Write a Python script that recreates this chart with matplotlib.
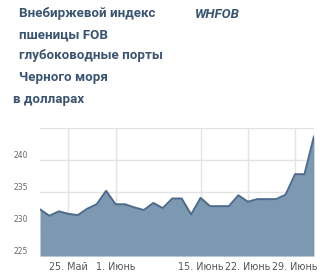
import numpy as np
import matplotlib.pyplot as plt

# ========== Данные ==========
# торговые дни (12 июня — выходной, его нет)
dates = ['2015-05-20', '2015-05-21', '2015-05-22', '2015-05-25', '2015-05-26',
         '2015-05-27', '2015-05-28', '2015-05-29', '2015-06-01', '2015-06-02',
         '2015-06-03', '2015-06-04', '2015-06-05', '2015-06-08', '2015-06-09',
         '2015-06-10', '2015-06-11', '2015-06-15', '2015-06-16', '2015-06-17',
         '2015-06-18', '2015-06-19', '2015-06-22', '2015-06-23', '2015-06-24',
         '2015-06-25', '2015-06-26', '2015-06-29', '2015-06-30', '2015-07-01']
values = [232.3, 231.3, 232.0, 231.6, 231.4, 232.4, 233.1, 235.2, 233.1, 233.1,
          232.6, 232.2, 233.3, 232.5, 234.0, 234.0, 231.5, 234.1, 232.8, 232.8,
          232.8, 234.5, 233.5, 233.9, 233.9, 233.9, 234.6, 237.8, 237.8, 243.7]

tick_dates = ['2015-05-25', '2015-06-01', '2015-06-15', '2015-06-22', '2015-06-29']
tick_labels = ['25. Май', '1. Июнь', '15. Июнь', '22. Июнь', '29. Июнь']
y_ticks = [225, 230, 235, 240, 245]

title_lines = ['Внебиржевой индекс', 'пшеницы FOB', 'глубоководные порты', 'Черного моря']
code = 'WHFOB'
units = 'в долларах'

# ========== Визуализация ==========
plt.rcParams['font.family'] = ['DejaVu Sans']
fig = plt.figure(figsize=(3.2, 2.78), dpi=100)
ax = fig.add_axes([0.125, 0.079, 0.856, 0.46])

x = np.arange(len(dates))
line_col = '#4d6a8a'
fill_col = '#7d98b1'
ax.fill_between(x, values, 225, color=fill_col, lw=0, zorder=2)
ax.plot(x, values, color=line_col, lw=1.4, zorder=3)

ax.set_xlim(0, len(dates) - 1)
ax.set_ylim(225, 245)
ax.set_yticks(y_ticks)
ax.set_yticklabels([str(v) if v < 245 else '' for v in y_ticks])
ax.set_xticks([dates.index(d) for d in tick_dates])
ax.set_xticklabels(tick_labels)
ax.tick_params(axis='x', length=0, pad=4, labelsize=6.9, labelcolor='#555555')
ax.tick_params(axis='y', length=0, pad=9, labelsize=5.5, labelcolor='#666666')
for lbl in ax.get_yticklabels():
    lbl.set_verticalalignment('bottom')
ax.grid(True, color='#e3e3e3', lw=1, zorder=1)
for s in ax.spines.values():
    s.set_visible(False)

title_col = '#3a5470'
tfont = 'Roboto'
for i, t in enumerate(title_lines):
    fig.text(19 / 320, 1 - (14 + i * 21) / 278, t, fontsize=9.6, fontweight='bold',
             family=tfont, color=title_col, va='center', ha='left')
fig.text(195 / 320, 1 - 14 / 278, code, fontsize=9.6, fontweight='bold', style='italic',
         family=tfont, color=title_col, va='center', ha='left')
fig.text(13 / 320, 1 - 99 / 278, units, fontsize=9.6, fontweight='bold',
         family=tfont, color=title_col, va='center', ha='left')

fig.savefig('out.png', dpi=100)
